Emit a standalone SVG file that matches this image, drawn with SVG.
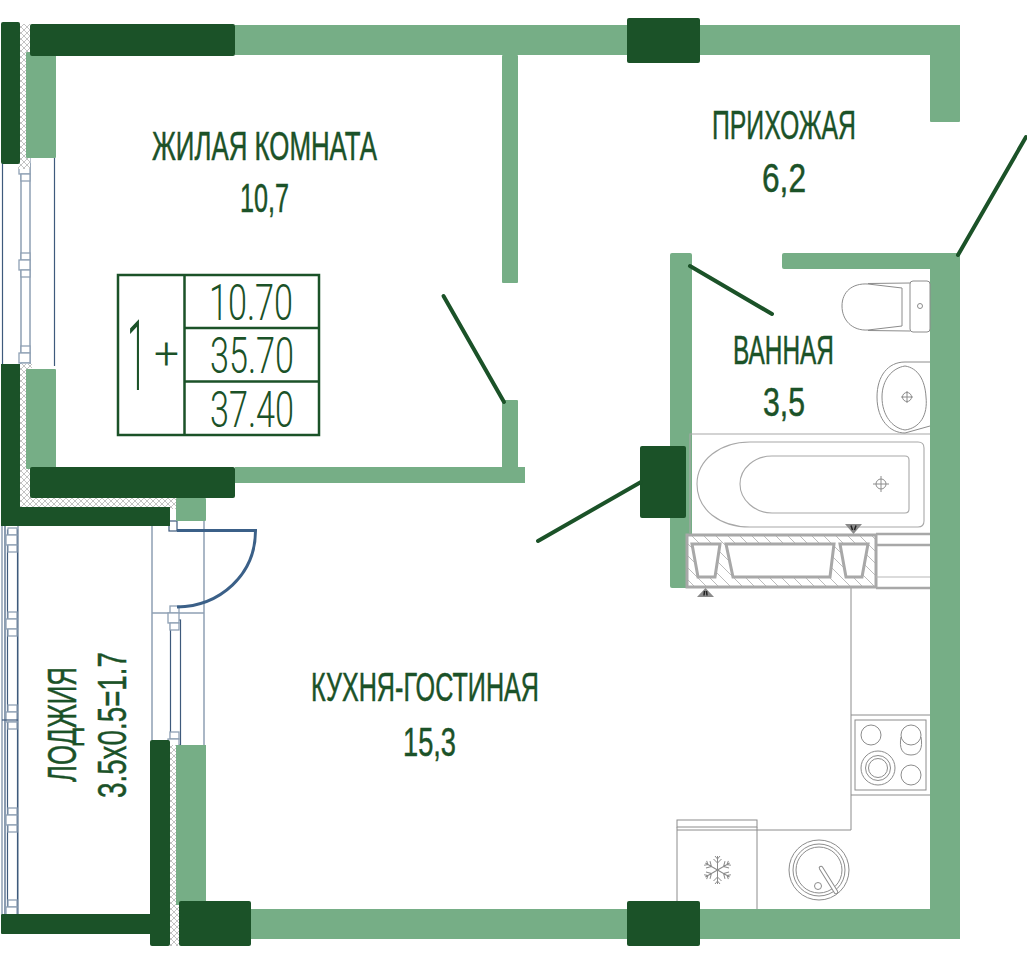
<svg xmlns="http://www.w3.org/2000/svg" width="1027" height="958" viewBox="0 0 1027 958">
<style>
.l{fill:#76ae86}
.d{fill:#1b5228}
.x{fill:url(#cross)}
.t{font-family:"Liberation Sans",sans-serif;fill:#1b5228;stroke:#1b5228;stroke-width:.5;font-size:40px}
.n{font-family:Roboto,"Liberation Sans",sans-serif;font-weight:300;fill:#1b5228;font-size:50px}
.door{stroke:#1b5228;stroke-width:4;fill:none;stroke-linecap:round}
.w1{stroke:#8fa0b4;stroke-width:1.5;fill:none}
.w2{stroke:#3e5a7c;stroke-width:1.2;fill:none}
.w3{stroke:#8fa0b4;stroke-width:1.3;fill:#fff}
.f{stroke:#a8a8a8;stroke-width:1.1;fill:none}
.f2{stroke:#8c8c8c;stroke-width:1;fill:none}
.s{stroke:#a8a8a8;stroke-width:3;fill:#fff}
</style>
<defs>
<pattern id="cross" width="6" height="6" patternUnits="userSpaceOnUse"><rect width="6" height="6" fill="#fff"/><path d="M0 0L6 6M6 0L0 6" stroke="#a9a9a9" stroke-width=".7"/></pattern>
<pattern id="hatch" width="12" height="12" patternUnits="userSpaceOnUse"><rect width="12" height="12" fill="#fff"/><path d="M-3 -3L15 15M-3 9L3 15M9 -3L15 3" stroke="#b4b4b4" stroke-width=".9"/></pattern>
<g id="mull"><rect x="0" y="0" width="9" height="7" class="w3"/><rect x="-2" y="7" width="11" height="10" class="w3"/><rect x="0" y="17" width="9" height="7" class="w3"/></g>
<g id="arm"><path d="M0 0V-14M0 -7L-4 -11M0 -7L4 -11M0 -11L-2.500 -14M0 -11L2.500 -14"/></g>
</defs>
<rect width="1027" height="958" fill="#fff"/>

<g id="windows">
<path class="w2" d="M2.500 160V366M54.500 158V366"/>
<rect x="21" y="164" width="9" height="200" class="w1"/>
<use href="#mull" x="21" y="253"/><use href="#mull" x="21" y="157"/><use href="#mull" x="21" y="346"/>
<path class="w1" d="M2 526V914M18 526V914"/>
<path class="w2" d="M5 526V914"/>
<rect x="7.500" y="530" width="10" height="384" class="w2"/>
<use href="#mull" x="8" y="528"/><use href="#mull" x="8" y="612"/><use href="#mull" x="8" y="705"/><use href="#mull" x="8" y="808"/><use href="#mull" x="8" y="900"/>
<path class="w2" d="M2 720H18"/>
<path class="w1" d="M152 526V740M204 521V745M152 613H204"/>
<rect x="170.500" y="620" width="10" height="125" class="w2"/>
<use href="#mull" x="170" y="606"/><use href="#mull" x="170" y="732"/>
<rect x="169" y="521" width="8" height="10" class="w2"/>
<path d="M177 530.500H255.500C255.500 575 220 606 177 607" fill="none" stroke="#3b6088" stroke-width="3"/>
</g>

<g id="kitchen" class="f2">
<path d="M851 588V830H757"/>
<path d="M851 715H930M851 795H930"/>
<rect x="855" y="720" width="71" height="70"/>
<circle cx="871" cy="735" r="10"/><circle cx="911" cy="735" r="10"/>
<path d="M901 737C899 748 902 755 911 755C920 755 923 748 921 737"/>
<circle cx="878" cy="768" r="17"/><circle cx="878" cy="768" r="12.500"/><circle cx="878" cy="768" r="9.500"/>
<circle cx="911" cy="775" r="10"/>
<rect x="677" y="820" width="80" height="7"/>
<path d="M677 827V905M757 827V909M677 830H757"/>
<circle cx="819" cy="870" r="30"/><circle cx="819" cy="870" r="26"/><circle cx="819" cy="870" r="23"/>
<path d="M821 868L836 892" stroke="#8c8c8c" stroke-width="4.500" stroke-linecap="round"/>
<path d="M821 868L836 892" stroke="#fff" stroke-width="2.500" stroke-linecap="round"/>
<circle cx="818" cy="886" r="3.500"/>
<g id="snowflake" transform="translate(717.500 870)">
<use href="#arm"/><use href="#arm" transform="rotate(60)"/><use href="#arm" transform="rotate(120)"/><use href="#arm" transform="rotate(180)"/><use href="#arm" transform="rotate(240)"/><use href="#arm" transform="rotate(300)"/>
</g>
</g>

<g id="walls">
<rect class="x" x="18" y="24" width="12" height="145"/>
<rect class="x" x="18" y="364" width="14" height="145"/>
<rect class="x" x="18" y="497" width="160" height="12"/>
<rect class="x" x="168" y="745" width="12" height="201"/>
<rect class="l" x="235" y="25" width="725" height="30"/>
<rect class="l" x="930" y="25" width="30" height="97" rx="1"/>
<rect class="l" x="26" y="52" width="30" height="106" rx="1"/>
<rect class="l" x="26" y="369" width="30" height="100" rx="1"/>
<rect class="l" x="502" y="55" width="16" height="228" rx="1"/>
<rect class="l" x="502" y="400" width="16" height="70" rx="1"/>
<rect class="l" x="235" y="467" width="290" height="16"/>
<rect class="l" x="176" y="498" width="30" height="23" rx="1"/>
<rect class="l" x="176" y="745" width="30" height="160"/>
<rect class="l" x="250" y="909" width="710" height="30"/>
<rect class="l" x="930" y="255" width="30" height="684"/>
<rect class="l" x="782" y="253" width="178" height="16" rx="2"/>
<rect class="l" x="670" y="253" width="22" height="335" rx="2"/>
<rect class="d" x="30" y="24" width="205" height="32" rx="2"/>
<rect class="d" x="627" y="18" width="73" height="45" rx="2"/>
<rect class="d" x="1" y="22" width="19" height="142" rx="2"/>
<path class="d" d="M1 364H20V507H170V526H1Z"/>
<rect class="d" x="30" y="467" width="205" height="31" rx="2"/>
<rect class="d" x="640" y="446" width="46" height="72" rx="2"/>
<rect class="d" x="150" y="740" width="20" height="206" rx="2"/>
<rect class="d" x="1" y="914" width="150" height="20" rx="1"/>
<rect class="d" x="179" y="901" width="72" height="45" rx="2"/>
<rect class="d" x="627" y="901" width="73" height="45" rx="2"/>
</g>

<g id="doors">
<path class="door" d="M443.500 296L504 402"/>
<path class="door" d="M958 255L1026 137"/>
<path class="door" d="M690 266L772 314"/>
<path class="door" d="M538 541L641 482"/>
</g>

<g id="bathroom">
<path class="f" d="M930 434H690V533"/>
<path class="f" d="M750 442H918Q924 442 924 448V521Q924 527 918 527H750C720 527 697 510 697 484C697 460 720 442 750 442Z"/>
<path class="f" d="M772 456H905Q909 456 909 460V509Q909 513 905 513H772C755 513 740 500 740 484C740 468 755 456 772 456Z"/>
<g class="f2"><circle cx="881" cy="484" r="5"/><path d="M873 484H889M881 476V492"/></g>
<g id="toilet" class="f2">
<path d="M902 288L868 284C852 283 842 292 842 306C842 320 852 331 868 330L902 326Z"/>
<path d="M868 283.500L910 283M868 330.500L910 331"/>
<rect x="910" y="281" width="20" height="51" rx="3"/>
<circle cx="920" cy="306" r="2.500"/>
</g>
<g id="basin" class="f2">
<path d="M930 362H905C888 362 877 376 877 397C877 420 890 433 905 433L930 426"/>
<path d="M905 366C892 368 882 380 882 397C882 415 892 428 905 430C920 428 928 415 926 397C925 380 918 368 905 366Z"/>
<circle cx="907" cy="397" r="4.500"/><path d="M901 397H913M907 391V403"/>
</g>
<g id="shaft">
<rect x="687" y="535" width="189" height="52" fill="url(#hatch)" stroke="#a8a8a8" stroke-width="3"/>
<path class="s" d="M692 544H720L715 577H698Z"/>
<path class="s" d="M726 544H834L830 577H733Z"/>
<path class="s" d="M840 544H868L862 577H846Z"/>
<path d="M876 534H930M876 545H930M876 588H930" stroke="#a8a8a8" stroke-width="2.500" fill="none"/>
<path d="M876 577H930" stroke="#b8b8b8" stroke-width="1.200"/>
<path d="M845 524H862L853.500 534Z" fill="#8a8a8a"/>
<path d="M851 525.500L852.500 530M856 525.500L854.500 530" stroke="#222" stroke-width="1.500"/>
<path d="M697 597H714L705.500 588Z" fill="#8a8a8a"/>
<path d="M704 595.500L704.500 591M707 595.500L706.500 591" stroke="#222" stroke-width="1.500"/>
</g>
</g>

<g id="plate">
<rect x="118" y="275" width="201" height="160" fill="none" stroke="#1b5228" stroke-width="2.500"/>
<path d="M184.500 275V435M184.500 328H319M184.500 381.500H319" fill="none" stroke="#1b5228" stroke-width="2.500"/>
<text class="n" x="209" y="320" textLength="84" lengthAdjust="spacingAndGlyphs">10.70</text>
<text class="n" x="210" y="373" textLength="84" lengthAdjust="spacingAndGlyphs">35.70</text>
<text class="n" x="210" y="427" textLength="84" lengthAdjust="spacingAndGlyphs">37.40</text>
<text class="n" transform="translate(127 390) scale(.36 1)" style="font-size:98px">1</text>
<text class="n" x="154" y="369" textLength="25" lengthAdjust="spacingAndGlyphs" style="font-size:44px">+</text>
</g>

<g id="labels">
<text class="t" x="152" y="160" textLength="225" lengthAdjust="spacingAndGlyphs">ЖИЛАЯ КОМНАТА</text>
<text class="t" x="240" y="212" textLength="49" lengthAdjust="spacingAndGlyphs">10,7</text>
<text class="t" x="712" y="139" textLength="144" lengthAdjust="spacingAndGlyphs">ПРИХОЖАЯ</text>
<text class="t" x="762" y="192" textLength="44" lengthAdjust="spacingAndGlyphs">6,2</text>
<text class="t" x="733" y="364" textLength="101" lengthAdjust="spacingAndGlyphs">ВАННАЯ</text>
<text class="t" x="763" y="416" textLength="42" lengthAdjust="spacingAndGlyphs">3,5</text>
<text class="t" x="311" y="701" textLength="228" lengthAdjust="spacingAndGlyphs">КУХНЯ-ГОСТИНАЯ</text>
<text class="t" x="403" y="756" textLength="53" lengthAdjust="spacingAndGlyphs">15,3</text>
<text class="t" transform="translate(76 782) rotate(-90)" textLength="115" lengthAdjust="spacingAndGlyphs">ЛОДЖИЯ</text>
<text class="t" transform="translate(126 798) rotate(-90)" textLength="146" lengthAdjust="spacingAndGlyphs">3.5x0.5=1.7</text>
</g>
</svg>
